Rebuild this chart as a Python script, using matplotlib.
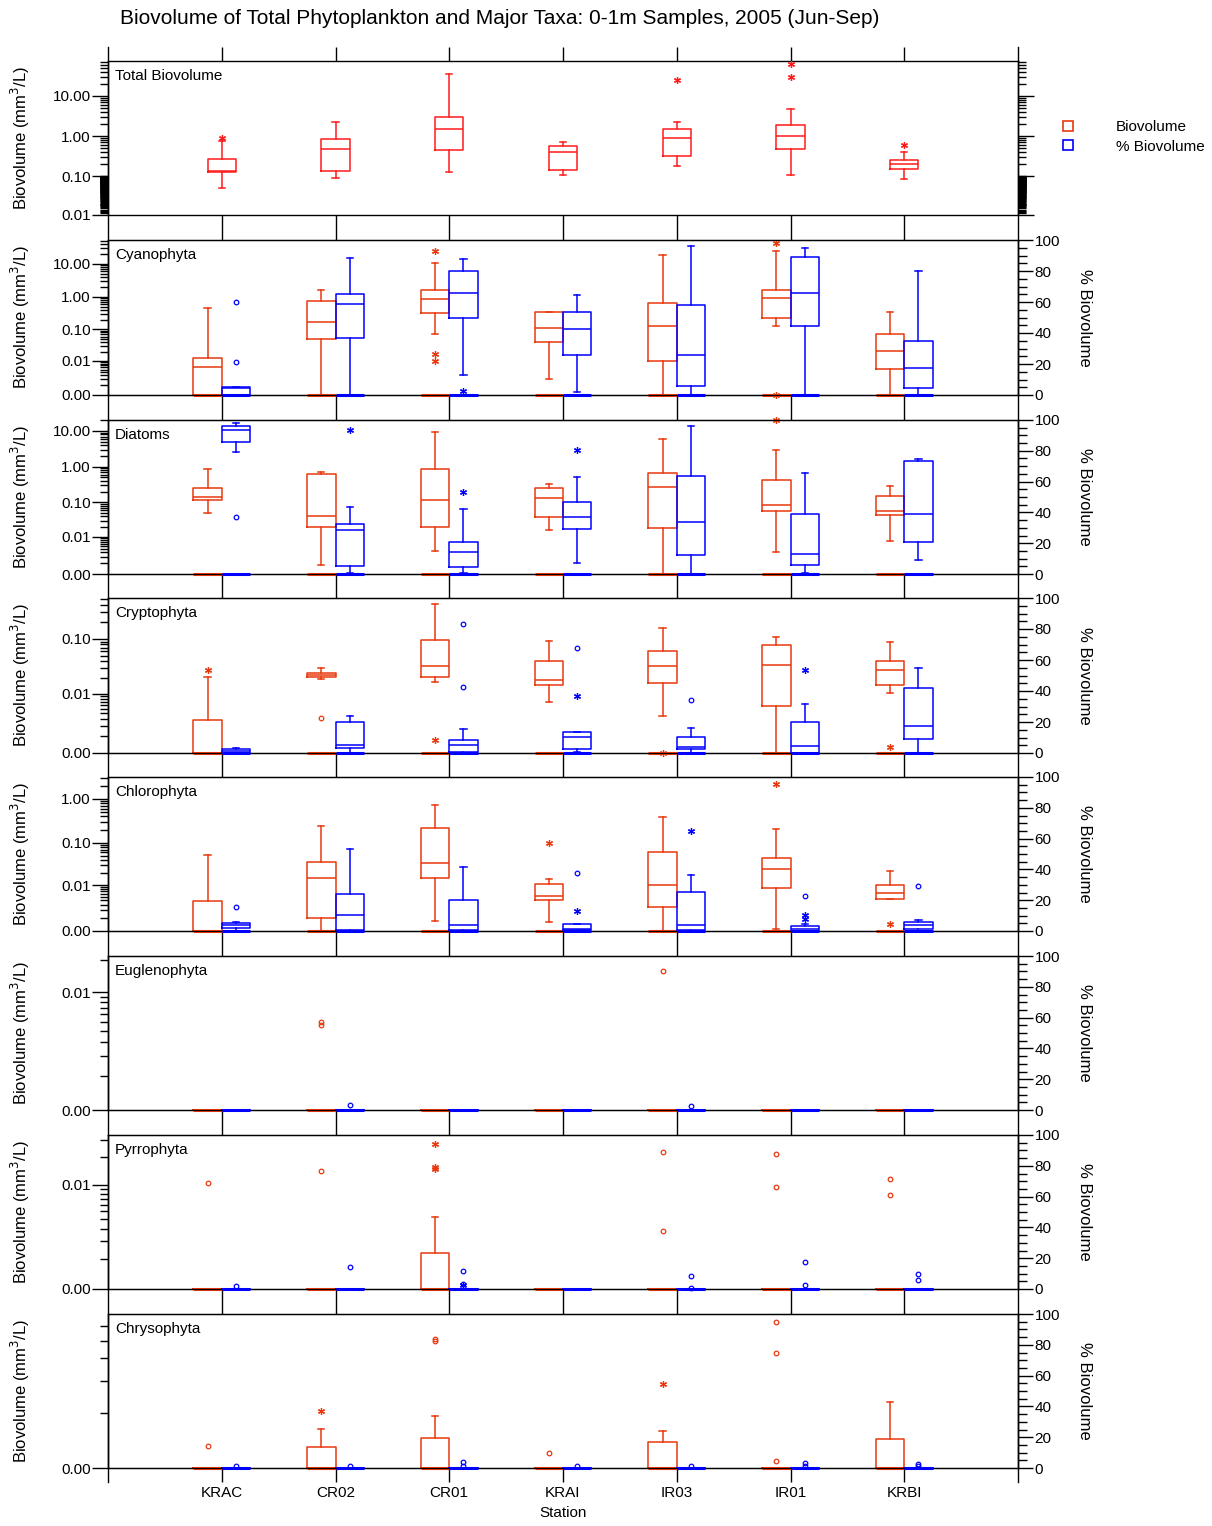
import numpy as np
import matplotlib
matplotlib.use('Agg')
import matplotlib.pyplot as plt
from matplotlib.lines import Line2D
from matplotlib.ticker import FixedLocator, FuncFormatter, NullFormatter

plt.rcParams['font.family'] = ['Liberation Sans', 'DejaVu Sans']

# ---------------- data ----------------
stations = ['KRAC', 'CR02', 'CR01', 'KRAI', 'IR03', 'IR01', 'KRBI']

# box stats per station: (low whisker, q1, median, q3, high whisker)
# fliers: (station, value, 'o' outlier / '*' extreme)
total_bv = [(0.05, 0.126, 0.133, 0.266, 0.75), (0.089, 0.133, 0.47, 0.84, 2.2),
            (0.126, 0.447, 1.5, 2.98, 35.5), (0.11, 0.14, 0.4, 0.56, 0.7),
            (0.178, 0.316, 0.89, 1.5, 2.2), (0.106, 0.47, 1.0, 1.88, 4.7),
            (0.084, 0.15, 0.2, 0.25, 0.4)]
total_bv_fl = [('KRAC', 0.9, '*'), ('IR03', 25, '*'), ('IR01', 63, '*'),
               ('IR01', 30, '*'), ('KRBI', 0.6, '*')]

cyano_bv = [(0, 0, 0.0062, 0.0125, 0.45), (0, 0.049, 0.172, 0.756, 1.57),
            (0.072, 0.312, 0.835, 1.6, 10.7), (0.0021, 0.0396, 0.1125, 0.334, 0.35),
            (0, 0.0097, 0.13, 0.657, 19.2), (0.13, 0.228, 0.897, 1.57, 25.4),
            (0, 0.0051, 0.021, 0.072, 0.349)]
cyano_bv_fl = [('CR01', 25.5, '*'), ('CR01', 0.0169, '*'), ('CR01', 0.0099, '*'),
               ('IR01', 42.9, '*'), ('IR01', 0, '*')]
cyano_pct = [(0, 0, 4.5, 5, 5), (0, 36.8, 59, 65, 88.4), (12.9, 49.9, 66, 80, 88),
             (1.7, 25.8, 42.8, 53.4, 64.7), (0, 6, 25.6, 58.3, 96.3),
             (0, 44.5, 66, 89.2, 95), (0, 4.3, 17.6, 34.8, 80.2)]
cyano_pct_fl = [('KRAC', 60, 'o'), ('KRAC', 21, 'o'), ('CR01', 2.8, '*')]

diatom_bv = [(0.0498, 0.117, 0.142, 0.254, 0.864), (0.0008, 0.0196, 0.0409, 0.626, 0.712),
             (0.0035, 0.0192, 0.116, 0.864, 9.2), (0.0157, 0.0391, 0.133, 0.254, 0.328),
             (0, 0.0179, 0.276, 0.682, 5.97), (0.003, 0.0568, 0.086, 0.417, 2.94),
             (0.0075, 0.0437, 0.0568, 0.151, 0.288)]
diatom_bv_fl = [('IR01', 20, '*')]
diatom_pct = [(79, 85.7, 93.5, 96, 98), (0.5, 5.2, 28.6, 32.5, 43.5),
              (0.8, 4.5, 14.5, 21, 42.2), (7.3, 29.2, 36.8, 47, 63),
              (0, 12.3, 34, 63.8, 96.3), (0.6, 6, 13.2, 39.2, 65.4),
              (9, 20.8, 39, 73.4, 74.7)]
diatom_pct_fl = [('KRAC', 37, 'o'), ('CR02', 93.5, '*'), ('CR01', 53.4, '*'),
                 ('KRAI', 80.5, '*')]

crypto_bv = [(0, 0, 0, 0.0028, 0.0209), (0.019, 0.0204, 0.0225, 0.0242, 0.0298),
             (0.0165, 0.0204, 0.0332, 0.0958, 0.416), (0.0068, 0.0145, 0.0184, 0.0399, 0.091),
             (0.0035, 0.0162, 0.0324, 0.0611, 0.157), (0, 0.0057, 0.0342, 0.0772, 0.109),
             (0.0103, 0.0147, 0.0278, 0.0404, 0.0883)]
crypto_bv_fl = [('KRAC', 0.0278, '*'), ('CR02', 0.0031, 'o'), ('CR01', 0.0007, '*'),
                ('IR03', 0, '*'), ('KRBI', 0.0003, '*')]
crypto_pct = [(0, 0, 1.5, 2.8, 3.4), (0, 3, 5.2, 19.8, 23.9), (0, 0.4, 5.3, 8.4, 15.5),
              (0.8, 2.6, 10.5, 13.5, 13.7), (0, 2.4, 3.7, 10.1, 16.3),
              (0, 0, 4.7, 19.8, 31.6), (0, 9, 17.4, 42, 54.8)]
crypto_pct_fl = [('CR01', 83, 'o'), ('CR01', 42.4, 'o'), ('KRAI', 67.5, 'o'),
                 ('KRAI', 36.8, '*'), ('IR03', 34.2, 'o'), ('IR01', 53.5, '*')]

chloro_bv = [(0, 0, 0, 0.0038, 0.052), (0, 0.00097, 0.015, 0.036, 0.243),
             (0.0007, 0.015, 0.034, 0.218, 0.73), (0.0006, 0.0041, 0.0052, 0.0107, 0.0142),
             (0, 0.0025, 0.0101, 0.0614, 0.389), (0.0001, 0.0085, 0.0247, 0.0446, 0.207),
             (0.0043, 0.0043, 0.0063, 0.0101, 0.0221)]
chloro_bv_fl = [('KRAI', 0.099, '*'), ('IR01', 2.19, '*'), ('KRBI', 0.00045, '*')]
chloro_pct = [(0, 2, 3.9, 5.2, 5.8), (0, 0.6, 10.4, 24, 53.2), (0, 0.6, 3.9, 20.1, 41.6),
              (0, 0.6, 1.3, 4.5, 4.5), (0, 0.6, 3.9, 25.3, 36.4),
              (0, 0, 1.3, 3.2, 4.5), (0, 1.3, 3.9, 5.8, 7)]
chloro_pct_fl = [('KRAC', 15.6, 'o'), ('KRAI', 37.7, 'o'), ('KRAI', 13, '*'),
                 ('IR03', 65, '*'), ('IR01', 22.7, 'o'), ('IR01', 10.4, '*'),
                 ('IR01', 8, '*'), ('KRBI', 29, 'o')]

eugl_bv = [(0, 0, 0, 0, 0)] * 7
eugl_bv_fl = [('CR02', 0.0050, 'o'), ('CR02', 0.0046, 'o'), ('IR03', 0.0159, 'o')]
eugl_pct = [(0, 0, 0, 0, 0)] * 7
eugl_pct_fl = [('CR02', 3.2, 'o'), ('IR03', 2.6, 'o')]

pyrro_bv = [(0, 0, 0, 0, 0), (0, 0, 0, 0, 0), (0, 0, 0, 0.0013, 0.0043), (0, 0, 0, 0, 0),
            (0, 0, 0, 0, 0), (0, 0, 0, 0, 0), (0, 0, 0, 0, 0)]
pyrro_bv_fl = [('KRAC', 0.0105, 'o'), ('CR02', 0.0142, 'o'), ('CR01', 0.0272, '*'),
               ('CR01', 0.0155, '*'), ('CR01', 0.0149, '*'), ('IR03', 0.0227, 'o'),
               ('IR03', 0.0028, 'o'), ('IR01', 0.0213, 'o'), ('IR01', 0.0095, 'o'),
               ('KRBI', 0.0116, 'o'), ('KRBI', 0.0078, 'o')]
pyrro_pct = [(0, 0, 0, 0, 0)] * 7
pyrro_pct_fl = [('KRAC', 2, 'o'), ('CR02', 14.3, 'o'), ('CR01', 11.7, 'o'),
                ('CR01', 3, 'o'), ('CR01', 2.5, '*'), ('IR03', 8.6, 'o'), ('IR03', 0.8, 'o'),
                ('IR01', 17.7, 'o'), ('IR01', 2.8, 'o'), ('KRBI', 9.9, 'o'), ('KRBI', 5.8, 'o')]

chryso_bv = [(0, 0, 0, 0, 0), (0, 0, 0, 0.0003, 0.00063), (0, 0, 0, 0.00046, 0.00093),
             (0, 0, 0, 0, 0), (0, 0, 0, 0.00039, 0.0006), (0, 0, 0, 0, 0),
             (0, 0, 0, 0.00044, 0.0013)]
chryso_bv_fl = [('KRAC', 0.00032, 'o'), ('CR02', 0.00106, '*'), ('CR01', 0.0041, 'o'),
                ('CR01', 0.0040, 'o'), ('KRAI', 0.00021, 'o'), ('IR03', 0.0019, '*'),
                ('IR01', 0.0053, 'o'), ('IR01', 0.0033, 'o'), ('IR01', 0.00009, 'o')]
chryso_pct = [(0, 0, 0, 0, 0)] * 7
chryso_pct_fl = [('KRAC', 1.5, 'o'), ('CR02', 1.5, 'o'), ('CR01', 3.9, 'o'), ('CR01', 1.5, 'o'),
                 ('KRAI', 1, 'o'), ('IR03', 1.5, 'o'), ('IR01', 3.2, 'o'), ('IR01', 1.5, 'o'),
                 ('KRBI', 2.6, 'o'), ('KRBI', 1.3, 'o')]

panels = [
    ('Total Biovolume', total_bv, total_bv_fl, None, None),
    ('Cyanophyta', cyano_bv, cyano_bv_fl, cyano_pct, cyano_pct_fl),
    ('Diatoms', diatom_bv, diatom_bv_fl, diatom_pct, diatom_pct_fl),
    ('Cryptophyta', crypto_bv, crypto_bv_fl, crypto_pct, crypto_pct_fl),
    ('Chlorophyta', chloro_bv, chloro_bv_fl, chloro_pct, chloro_pct_fl),
    ('Euglenophyta', eugl_bv, eugl_bv_fl, eugl_pct, eugl_pct_fl),
    ('Pyrrophyta', pyrro_bv, pyrro_bv_fl, pyrro_pct, pyrro_pct_fl),
    ('Chrysophyta', chryso_bv, chryso_bv_fl, chryso_pct, chryso_pct_fl),
]

# ---------------- layout / style ----------------
W, H = 1212, 1526
LEFT, RIGHT = 108, 1018
tops = [61, 240, 420, 598, 777, 956, 1135, 1314]
bottoms = [215, 395, 574, 753, 931, 1110, 1289, 1468]
ylims = [(0.01, 74), (0, 54), (0, 20.3), (0, 0.53), (0, 3.16), (0, 0.0219), (0, 0.0338), (0, 0.006)]
majors = [[0.01, 0.1, 1, 10], [0, 0.01, 0.1, 1, 10], [0, 0.01, 0.1, 1, 10],
          [0, 0.01, 0.1], [0, 0.01, 0.1, 1], [0, 0.01], [0, 0.01], [0]]
RED1 = '#ff1a1a'
RED = '#e8380d'
BLUE = '#0000ff'
PX = 72 / 100  # points per pixel
C = 0.001


def fwd(y):
    return np.log10(np.maximum(np.asarray(y, float) + C, 1e-9))


def inv(y):
    return 10 ** np.asarray(y, float) - C


def minor_ticks(lo, hi, majs, dense=False):
    t = [0.001]
    for d in [0.001, 0.01, 0.1, 1, 10]:
        t += [k * d for k in range(2, 10)]
    if dense:
        t += list(np.arange(0.011, 0.1, 0.001))
    return [v for v in t if lo < v < hi and all(abs(v - m) > 1e-9 for m in majs)]


def draw_boxes(ax, stats_list, fliers, offset, color, baseline=True):
    pos = np.arange(1, len(stations) + 1) + offset
    stats = [dict(whislo=lo, q1=q1, med=md, q3=q3, whishi=hi, fliers=[])
             for lo, q1, md, q3, hi in stats_list]
    lp = dict(color=color, lw=1.1)
    ax.bxp(stats, positions=pos, widths=0.25, capwidths=0.055, showfliers=False,
           boxprops=lp, whiskerprops=lp, capprops=lp, medianprops=lp, manage_ticks=False)
    if baseline:
        ax.hlines(np.zeros(len(pos)), pos - 0.125, pos + 0.125, color=color, lw=2.2,
                  zorder=3, clip_on=False)
    for st, val, kind in fliers:
        x = stations.index(st) + 1 + offset
        if kind == 'o':
            ax.plot(x, val, 'o', ms=3.3, mfc='none', mec=color, mew=0.9, clip_on=False, zorder=4)
        else:
            ax.plot(x, val, marker=(6, 2, 0), ms=5, color=color, mew=0.9, clip_on=False, zorder=4)


fig = plt.figure(figsize=(W / 100, H / 100), dpi=100)
fmt = FuncFormatter(lambda v, p: '%.2f' % v)

for i, (name, bv, bv_fl, pct, pct_fl) in enumerate(panels):
    t, b = tops[i], bottoms[i]
    ax = fig.add_axes([LEFT / W, 1 - b / H, (RIGHT - LEFT) / W, (b - t) / H])
    ax.set_yscale('function', functions=(fwd, inv))
    ax.set_ylim(*ylims[i])
    ax.set_xlim(0, 8)
    ax.yaxis.set_major_locator(FixedLocator(majors[i]))
    ax.yaxis.set_minor_locator(FixedLocator(minor_ticks(ylims[i][0], ylims[i][1], majors[i], dense=(i == 0))))
    ax.yaxis.set_major_formatter(fmt)
    ax.yaxis.set_minor_formatter(NullFormatter())
    ax.tick_params(axis='y', which='major', direction='out', length=16 * PX, width=1, labelsize=11, pad=1)
    ax.tick_params(axis='y', which='minor', direction='out', length=8 * PX, width=1)
    if i == 0:
        ax.tick_params(axis='y', which='both', right=True)

    gap = (tops[i + 1] - b) if i < len(panels) - 1 else 14
    ax.set_xticks(np.arange(1, len(stations) + 1))
    ax.tick_params(axis='x', direction='out', length=gap * PX, width=1, labelbottom=False)
    if i == len(panels) - 1:
        ax.set_xticklabels(stations)
        ax.tick_params(axis='x', labelbottom=True, labelsize=11, pad=3)
        ax.set_xlabel('Station', fontsize=11, labelpad=4)
    if i == 0:
        sec = ax.secondary_xaxis('top')
        sec.set_xticks(np.arange(1, len(stations) + 1))
        sec.tick_params(direction='out', length=14 * PX, width=1, labeltop=False)
        sec.spines['top'].set_visible(False)

    for sp in ax.spines.values():
        sp.set_linewidth(1)

    ax.text(7 / (RIGHT - LEFT), 1 - 8 / (b - t), name, transform=ax.transAxes,
            ha='left', va='top', fontsize=11)
    ax.set_ylabel('Biovolume (mm$^3$/L)', fontsize=12)
    ax.yaxis.set_label_coords(-76 / (RIGHT - LEFT), 0.5)

    draw_boxes(ax, bv, bv_fl, -0.125 if pct is not None else 0, RED1 if i == 0 else RED,
               baseline=(i > 0))

    if pct is not None:
        ax2 = ax.twinx()
        ax2.set_ylim(0, 100)
        ax2.set_yticks(np.arange(0, 101, 20))
        ax2.set_yticks(np.arange(0, 101, 5), minor=True)
        ax2.tick_params(axis='y', which='major', direction='out', length=15 * PX, width=1,
                        labelsize=11, pad=1)
        ax2.tick_params(axis='y', which='minor', direction='out', length=9 * PX, width=1)
        ax2.set_ylabel('% Biovolume', fontsize=12, rotation=270, va='center')
        ax2.yaxis.set_label_coords(1 + 67 / (RIGHT - LEFT), 0.5)
        draw_boxes(ax2, pct, pct_fl, 0.125, BLUE)

# continuous outer vertical lines
for xp in (LEFT, RIGHT):
    fig.add_artist(Line2D([xp / W, xp / W], [1 - 47 / H, 1 - 1482 / H], color='k', lw=1))

fig.text(120 / W, 1 - 18 / H,
         'Biovolume of Total Phytoplankton and Major Taxa: 0-1m Samples, 2005 (Jun-Sep)',
         fontsize=15, ha='left', va='center')

handles = [Line2D([], [], ls='none', marker='s', ms=7, mfc='none', mec=RED, mew=1.2),
           Line2D([], [], ls='none', marker='s', ms=7, mfc='none', mec=BLUE, mew=1.2)]
fig.legend(handles, ['Biovolume', '% Biovolume'], loc='center left',
           bbox_to_anchor=(1053 / W, 1 - 137 / H), frameon=False, fontsize=11,
           handlelength=1, handletextpad=2.6, labelspacing=0.35, borderpad=0)

fig.savefig('out.png', dpi=100)
